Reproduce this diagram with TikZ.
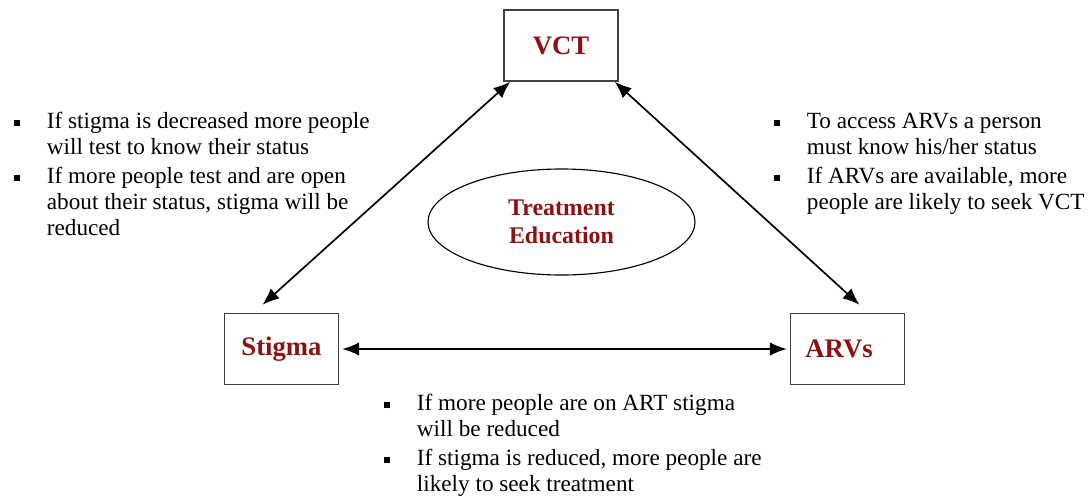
\documentclass[tikz,border=0pt]{standalone}
\usepackage{fontspec}
\setmainfont{Liberation Serif}
\usetikzlibrary{shapes.geometric}
\usetikzlibrary{arrows.meta}
\definecolor{darkred}{RGB}{140,18,18}
\newcommand{\bul}{\rule[0.22ex]{4.2pt}{4.2pt}}
\tikzset{
    mybox/.style = {rectangle, draw=black!75, line width=1pt, minimum width=114*0.025cm, minimum height=71*0.025cm, font=\fontsize{19}{22}\selectfont\bfseries, text=darkred},
    myellipse/.style = {ellipse, draw=black, line width=0.8pt, minimum width=267*0.025cm, minimum height=106*0.025cm, align=center, font=\fontsize{17}{20}\selectfont\bfseries, text=darkred},
    note/.style = {anchor=north west, inner sep=0pt, font=\fontsize{16.5}{18.6}\selectfont},
    edgen/.style = {{Latex[length=12pt,width=9.5pt]}-{Latex[length=12pt,width=9.5pt]}, line width=1.2pt},
}
\begin{document}
\begin{tikzpicture}[x=0.025cm,y=-0.025cm]
  \useasboundingbox[fill=white] (0,0) rectangle (1091,495);

  \node[mybox] (vct) at (561,45.5) {VCT};
  \node[mybox] (stigma) at (281.5,349) {Stigma};
  \node[mybox] (arvs) at (847.5,349) {\hspace*{-12pt}ARVs};
  \node[myellipse] (edu) at (561.5,222) {Treatment\\Education};

  \draw[edgen] ([xshift=7*0.025cm]vct.south west) -- ([shift={(-19,-8)}]stigma.north);
  \draw[edgen] ([xshift=-4*0.025cm]vct.south east) -- ([shift={(12,-8)}]arvs.north);
  \draw[edgen] ([xshift=3*0.025cm]stigma.east) -- ([xshift=-3*0.025cm]arvs.west);

  % notes
  \node[note] (left) at (14,110) {\begin{tabular}{@{}l@{\hspace{19pt}}l@{}}
    \bul & If stigma is decreased more people\\
         & will test to know their status\\[1.5pt]
    \bul & If more people test and are open\\
         & about their status, stigma will be\\
         & reduced
  \end{tabular}};
  \node[note] (right) at (774,110) {\begin{tabular}{@{}l@{\hspace{19pt}}l@{}}
    \bul & To access ARVs a person\\
         & must know his/her status\\[1.5pt]
    \bul & If ARVs are available, more\\
         & people are likely to seek VCT
  \end{tabular}};
  \node[note] (bottom) at (384,392) {\begin{tabular}{@{}l@{\hspace{19pt}}l@{}}
    \bul & If more people are on ART stigma\\
         & will be reduced\\[1.5pt]
    \bul & If stigma is reduced, more people are\\
         & likely to seek treatment
  \end{tabular}};
\end{tikzpicture}
\end{document}
